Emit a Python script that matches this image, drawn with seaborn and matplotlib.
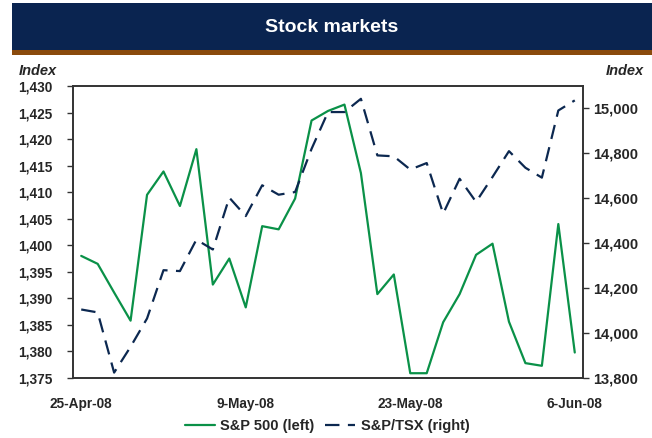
import matplotlib
matplotlib.use("Agg")
import matplotlib.pyplot as plt
from matplotlib.patches import Rectangle
from matplotlib.lines import Line2D
import pandas as pd
import seaborn as sns

# daily closes, 25-Apr-08 .. 6-Jun-08 (31 trading days)
sp500 = [1398.0, 1396.5, 1391.1, 1385.8, 1409.5, 1413.9, 1407.4, 1418.1, 1392.6, 1397.5,
         1388.3, 1403.6, 1403.0, 1408.8, 1423.5, 1425.3, 1426.5, 1413.6, 1390.8, 1394.5,
         1375.9, 1375.9, 1385.5, 1390.8, 1398.2, 1400.3, 1385.6, 1377.8, 1377.3, 1404.0, 1379.8]
tsx = [14105, 14092, 13824, 13939, 14065, 14280, 14276, 14416, 14372, 14603,
       14521, 14658, 14616, 14628, 14820, 14984, 14984, 15043, 14791, 14787,
       14728, 14757, 14532, 14687, 14584, 14695, 14810, 14736, 14692, 14991, 15036]
date_labels = ["25-Apr-08", "9-May-08", "23-May-08", "6-Jun-08"]
date_pos = [0, 10, 20, 30]
left_ticks = [1375, 1380, 1385, 1390, 1395, 1400, 1405, 1410, 1415, 1420, 1425, 1430]
right_ticks = [13800, 14000, 14200, 14400, 14600, 14800, 15000]

green = "#0a9148"
navy = "#0c2850"

d = pd.DataFrame({"day": range(len(sp500)), "sp500": sp500, "tsx": tsx})

sns.set_style("white")
plt.rcParams["font.family"] = ["Liberation Sans", "DejaVu Sans"]

W, H = 652, 438
fig = plt.figure(figsize=(W / 100, H / 100), dpi=100)

# title banner
fig.patches.append(Rectangle((12 / W, 1 - 50 / H), 1, 47 / H, transform=fig.transFigure,
                             facecolor="#0a2450", edgecolor="none", zorder=0))
fig.patches.append(Rectangle((12 / W, 1 - 55 / H), 1, 5 / H, transform=fig.transFigure,
                             facecolor="#8a4a0c", edgecolor="none", zorder=0))
fig.text(332 / W, 1 - 28 / H, "Stock markets", color="white", fontsize=14,
         fontweight="bold", ha="center", va="center")

ax = fig.add_axes([73 / W, 1 - 378 / H, 510 / W, 292 / H])
ax2 = ax.twinx()

sns.lineplot(data=d, x="day", y="sp500", ax=ax, color=green, linewidth=1.6)
sns.lineplot(data=d, x="day", y="tsx", ax=ax2, color=navy, linewidth=1.6,
             dashes=False)
ax2.lines[0].set_dashes((6.5, 3.8))

ax.set_xlim(-0.5, len(sp500) - 0.5)
ax.set_ylim(1375, 1430)
ax2.set_ylim(13800, 15100)

ax.set_xticks(date_pos)
ax.set_xticklabels(date_labels, fontsize=9.8, fontweight="bold")
ax.set_yticks(left_ticks)
ax.set_yticklabels([f"{v:,}" for v in left_ticks], fontsize=9.8, fontweight="bold")
ax2.set_yticks(right_ticks)
ax2.set_yticklabels([f"{v:,}" for v in right_ticks], fontsize=10.5, fontweight="bold")
ax.set_xlabel("")
ax.set_ylabel("")
ax2.set_ylabel("")

ax.tick_params(axis="x", length=0, pad=14)
ax.tick_params(axis="y", direction="out", length=4, width=1, color="#333333", pad=11, left=True)
ax2.tick_params(axis="y", direction="out", length=4, width=1, color="#333333", pad=3.5, right=True)

for a in (ax, ax2):
    for s in a.spines.values():
        s.set_color("#333333")
        s.set_linewidth(1.2)

fig.text(19 / W, 1 - 71 / H, "Index", fontsize=10.5, fontweight="bold", style="italic",
         ha="left", va="center")
fig.text(644 / W, 1 - 71 / H, "Index", fontsize=10.5, fontweight="bold", style="italic",
         ha="right", va="center")

handles = [Line2D([], [], color=green, linewidth=1.6),
           Line2D([], [], color=navy, linewidth=1.6, dashes=(6.5, 3.8))]
fig.legend(handles, ["S&P 500 (left)", "S&P/TSX (right)"], loc="center",
           bbox_to_anchor=(327 / W, 1 - 426 / H), ncol=2, frameon=False,
           prop={"size": 10.5, "weight": "bold"}, handlelength=2.1, handletextpad=0.35,
           columnspacing=0.7)

fig.savefig("out.png", dpi=100)
